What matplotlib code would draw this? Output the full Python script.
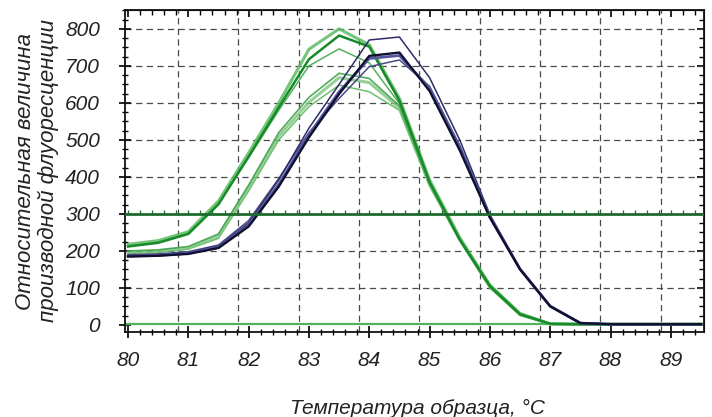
import numpy as np
import matplotlib
matplotlib.use("Agg")
import matplotlib.pyplot as plt
from matplotlib.ticker import MultipleLocator

plt.rcParams["font.family"] = ["Liberation Sans", "DejaVu Sans"]
plt.rcParams["font.style"] = "italic"

# ---------------- data ----------------
temps = [80.0, 80.5, 81.0, 81.5, 82.0, 82.5, 83.0, 83.5, 84.0, 84.5,
         85.0, 85.5, 86.0, 86.5, 87.0, 87.5, 88.0, 88.5, 89.0, 89.5]

green_high_1 = [218, 228, 252, 335, 465, 600, 745, 800, 757, 612, 392, 236, 108, 31, 3, 2, 2, 2, 2, 2]
green_high_2 = [212, 222, 246, 326, 455, 588, 718, 782, 752, 606, 386, 231, 105, 29, 3, 2, 2, 2, 2, 2]
green_high_3 = [214, 224, 248, 330, 452, 580, 700, 746, 708, 598, 383, 229, 102, 27, 3, 2, 2, 2, 2, 2]
green_low_1 = [200, 203, 212, 246, 378, 520, 615, 680, 666, 592, 382, 233, 108, 31, 3, 2, 2, 2, 2, 2]
green_low_2 = [196, 199, 208, 240, 370, 510, 602, 668, 655, 586, 379, 230, 104, 28, 3, 2, 2, 2, 2, 2]
green_low_3 = [193, 196, 205, 234, 362, 500, 590, 648, 630, 580, 376, 228, 100, 26, 3, 2, 2, 2, 2, 2]

navy_1 = [188, 190, 196, 213, 276, 392, 532, 650, 770, 778, 668, 500, 298, 152, 52, 6, 2, 2, 2, 2]
navy_2 = [185, 187, 192, 208, 266, 374, 507, 624, 727, 736, 632, 472, 290, 150, 50, 5, 2, 2, 2, 2]
navy_3 = [186, 188, 194, 210, 270, 380, 514, 630, 720, 728, 640, 480, 292, 151, 51, 5, 2, 2, 2, 2]
navy_4 = [190, 192, 198, 216, 282, 396, 520, 612, 698, 716, 645, 485, 296, 153, 52, 6, 2, 2, 2, 2]

baseline_value = 3
threshold_value = 300

x_ticks = [80, 81, 82, 83, 84, 85, 86, 87, 88, 89]
y_ticks = [0, 100, 200, 300, 400, 500, 600, 700, 800]

x_label = "Температура образца, °C"
y_label = "Относительная величина\nпроизводной флуоресценции"

# ---------------- figure ----------------
W, H = 712, 417
fig = plt.figure(figsize=(W / 100, H / 100), dpi=100)
ax = fig.add_axes([125 / W, 1 - 332 / H, (704 - 125) / W, (332 - 10) / H])
ax.set_xlim(79.95, 89.55)
ax.set_ylim(-19, 851)

# grid (vertical lines are offset from ticks as in the source)
grid_col = "#4a4a4a"
for gx in np.array(x_ticks[:-1]) + 0.83:
    ax.axvline(gx, color=grid_col, lw=0.9, dashes=(5, 3.5), zorder=1)
for gy in y_ticks:
    if gy in (0, threshold_value):
        continue
    ax.axhline(gy, color=grid_col, lw=0.9, dashes=(5, 3.5), zorder=1)

# baseline and threshold
ax.plot([79.95, 89.55], [baseline_value, baseline_value], color="#4fb35a", lw=1.6, zorder=2)
ax.axhline(threshold_value, color="#1f6b2e", lw=2.0, zorder=5)
mk = np.arange(80, 89.6, 0.2)
ax.plot(mk, [threshold_value] * len(mk), ls="none", marker=2, ms=3, mew=0.9,
        color="#1f6b2e", zorder=5)

# curves
for ys, c, lw, a in [
    (green_low_3, "#5cb85f", 1.1, 0.9),
    (green_low_2, "#7cc47f", 2.2, 0.8),
    (green_low_1, "#3fa24a", 1.2, 0.9),
    (green_high_3, "#43a84c", 1.1, 0.9),
    (green_high_1, "#5dbb63", 2.2, 0.85),
    (green_high_2, "#178a2a", 1.8, 1.0),
]:
    ax.plot(temps, ys, color=c, lw=lw, alpha=a, zorder=3)

for ys, c, lw in [
    (navy_4, "#4a4a86", 1.1),
    (navy_1, "#2e2e66", 1.1),
    (navy_3, "#5656a0", 2.0),
    (navy_2, "#0f0f30", 1.7),
]:
    ax.plot(temps, ys, color=c, lw=lw, zorder=4)

# axes / ticks
for s in ax.spines.values():
    s.set_color("#111111")
    s.set_linewidth(1.3)

ax.set_xticks(x_ticks)
ax.set_yticks(y_ticks)
ax.xaxis.set_minor_locator(MultipleLocator(0.2))
ax.yaxis.set_minor_locator(MultipleLocator(25))
ax.tick_params(axis="x", which="major", direction="inout", length=8, width=1.3, pad=10,
               colors="#111111", labelcolor="#222222", labelsize=15)
ax.tick_params(axis="x", which="minor", direction="inout", length=5, width=1.0)
ax.tick_params(axis="y", which="major", direction="inout", length=8, width=1.3, pad=14,
               colors="#111111", labelcolor="#222222", labelsize=15)
ax.tick_params(axis="y", which="minor", direction="inout", length=5, width=1.0)

top = ax.secondary_xaxis("top")
top.set_xticks(x_ticks)
top.xaxis.set_minor_locator(MultipleLocator(0.2))
top.tick_params(which="major", direction="in", length=5, width=1.2, labeltop=False)
top.tick_params(which="minor", direction="in", length=3.5, width=1.0)
top.set_xticklabels([])

right = ax.secondary_yaxis("right")
right.set_yticks(y_ticks)
right.yaxis.set_minor_locator(MultipleLocator(25))
right.tick_params(which="major", direction="in", length=5, width=1.2, labelright=False)
right.tick_params(which="minor", direction="in", length=3.5, width=1.0)
right.set_yticklabels([])

fig.text(417 / W, 1 - 408 / H, x_label, ha="center", va="center",
         style="italic", size=15, color="#222222")
fig.text(37 / W, 1 - 171 / H, y_label, ha="center", va="center", rotation=90,
         multialignment="center", linespacing=1.05,
         style="italic", size=16, color="#222222")

fig.savefig("out.png", dpi=100)
